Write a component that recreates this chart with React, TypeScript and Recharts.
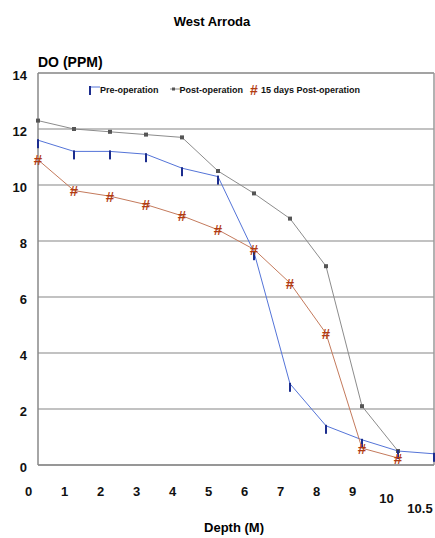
import { LineChart, Line, XAxis, YAxis, CartesianGrid, ReferenceLine } from "recharts";

const DEPTHS = ["0", "1", "2", "3", "4", "5", "6", "7", "8", "9", "10", "10.5"];
const PRE_OP = [11.6, 11.2, 11.2, 11.1, 10.6, 10.3, 7.6, 2.9, 1.4, 0.9, 0.5, 0.4];
const POST_OP = [12.3, 12.0, 11.9, 11.8, 11.7, 10.5, 9.7, 8.8, 7.1, 2.1, 0.5, null];
const DAYS_15 = [10.9, 9.8, 9.6, 9.3, 8.9, 8.4, 7.7, 6.5, 4.7, 0.6, 0.25, null];
const Y_TICKS = [0, 2, 4, 6, 8, 10, 12, 14];

const FONT = '"Liberation Sans", Arial, sans-serif';
const PRE_LINE = "#5474d8";
const PRE_MARK = "#1c2d8e";
const POST_LINE = "#8c8c8c";
const POST_MARK = "#555";
const D15_LINE = "#c47a5c";
const D15_MARK = "#b23c12";

const data = DEPTHS.map((depth, i) => ({
  depth,
  pre: PRE_OP[i],
  post: POST_OP[i],
  d15: DAYS_15[i],
}));

const PreDot = (p: any) => {
  if (p.value == null) return null;
  return <rect key={p.index} x={p.cx - 1} y={p.cy - 1} width={2} height={9} fill={PRE_MARK} />;
};

const PostDot = (p: any) => {
  if (p.value == null) return null;
  return <rect key={p.index} x={p.cx - 2} y={p.cy - 2} width={4} height={4} fill={POST_MARK} />;
};

const HashDot = (p: any) => {
  if (p.value == null) return null;
  return (
    <text
      key={p.index}
      x={p.cx}
      y={p.cy + 5.5}
      textAnchor="middle"
      fontSize={15}
      fontWeight="bold"
      fontFamily={FONT}
      fill={D15_MARK}
    >
      #
    </text>
  );
};

// tick labels sit a little left of the points; the last two drop lower
const XTick = ({ x, y, payload }: any) => {
  let dx = -9.5;
  let dy = 23;
  if (payload.value === "10") {
    dx = -11.5;
    dy = 30;
  } else if (payload.value === "10.5") {
    dx = -14;
    dy = 40;
  }
  return (
    <text x={x + dx} y={y + dy} textAnchor="middle" fontSize={13} fontWeight="bold" fontFamily={FONT} fill="#111">
      {payload.value}
    </text>
  );
};

const legendText = { fontSize: 9, fontWeight: "bold" as const, color: "#111" };

export default function App() {
  return (
    <div style={{ position: "relative", width: 435, height: 538, background: "#fff", fontFamily: FONT }}>
      <style>{"body{margin:0}"}</style>
      <LineChart width={435} height={538} data={data} margin={{ top: 73, right: 1, left: 0, bottom: 0 }}>
        <CartesianGrid vertical={false} stroke="#858585" strokeWidth={1.2} />
        <ReferenceLine y={14} stroke="#999" strokeWidth={1.5} />
        <ReferenceLine x="10.5" stroke="#999" strokeWidth={1.5} />
        <XAxis
          dataKey="depth"
          height={73}
          interval={0}
          tick={<XTick />}
          tickLine={false}
          stroke="#888"
          strokeWidth={1.5}
        />
        <YAxis
          width={38}
          domain={[0, 14]}
          ticks={Y_TICKS}
          tickLine={false}
          tickMargin={5}
          stroke="#888"
          strokeWidth={1.5}
          tick={{ fontSize: 13, fontWeight: "bold", fill: "#111", fontFamily: FONT, dy: 2 }}
        />
        <Line dataKey="post" stroke={POST_LINE} strokeWidth={1} dot={<PostDot />} isAnimationActive={false} />
        <Line dataKey="pre" stroke={PRE_LINE} strokeWidth={1} dot={<PreDot />} isAnimationActive={false} />
        <Line dataKey="d15" stroke={D15_LINE} strokeWidth={1} dot={<HashDot />} isAnimationActive={false} />
      </LineChart>

      <div style={{ position: "absolute", left: 0, top: 14, width: 424, textAlign: "center", fontSize: 13, fontWeight: "bold" }}>
        West Arroda
      </div>
      <div style={{ position: "absolute", left: 38, top: 54, fontSize: 14, fontWeight: "bold" }}>DO (PPM)</div>
      <div style={{ position: "absolute", left: 0, top: 520, width: 468, textAlign: "center", fontSize: 13, fontWeight: "bold" }}>
        Depth (M)
      </div>

      <div style={{ position: "absolute", left: 86, top: 83, display: "flex", alignItems: "center", whiteSpace: "nowrap" }}>
        <svg width={14} height={14} style={{ overflow: "visible" }}>
          <line x1={3} y1={4} x2={14} y2={4} stroke={PRE_LINE} strokeWidth={1} />
          <rect x={3} y={3} width={2} height={9} fill={PRE_MARK} />
        </svg>
        <span style={{ ...legendText, marginRight: 9 }}>Pre-operation</span>
        <svg width={12} height={14} style={{ overflow: "visible" }}>
          <line x1={2} y1={6} x2={12} y2={6} stroke={POST_LINE} strokeWidth={1} />
          <rect x={4} y={4.5} width={3} height={3} fill={POST_MARK} />
        </svg>
        <span style={{ ...legendText, marginRight: 6 }}>Post-operation</span>
        <svg width={12} height={14} style={{ overflow: "visible" }}>
          <text x={5} y={12} textAnchor="middle" fontSize={14} fontWeight="bold" fontFamily={FONT} fill={D15_MARK}>
            #
          </text>
        </svg>
        <span style={legendText}>15 days Post-operation</span>
      </div>
    </div>
  );
}
